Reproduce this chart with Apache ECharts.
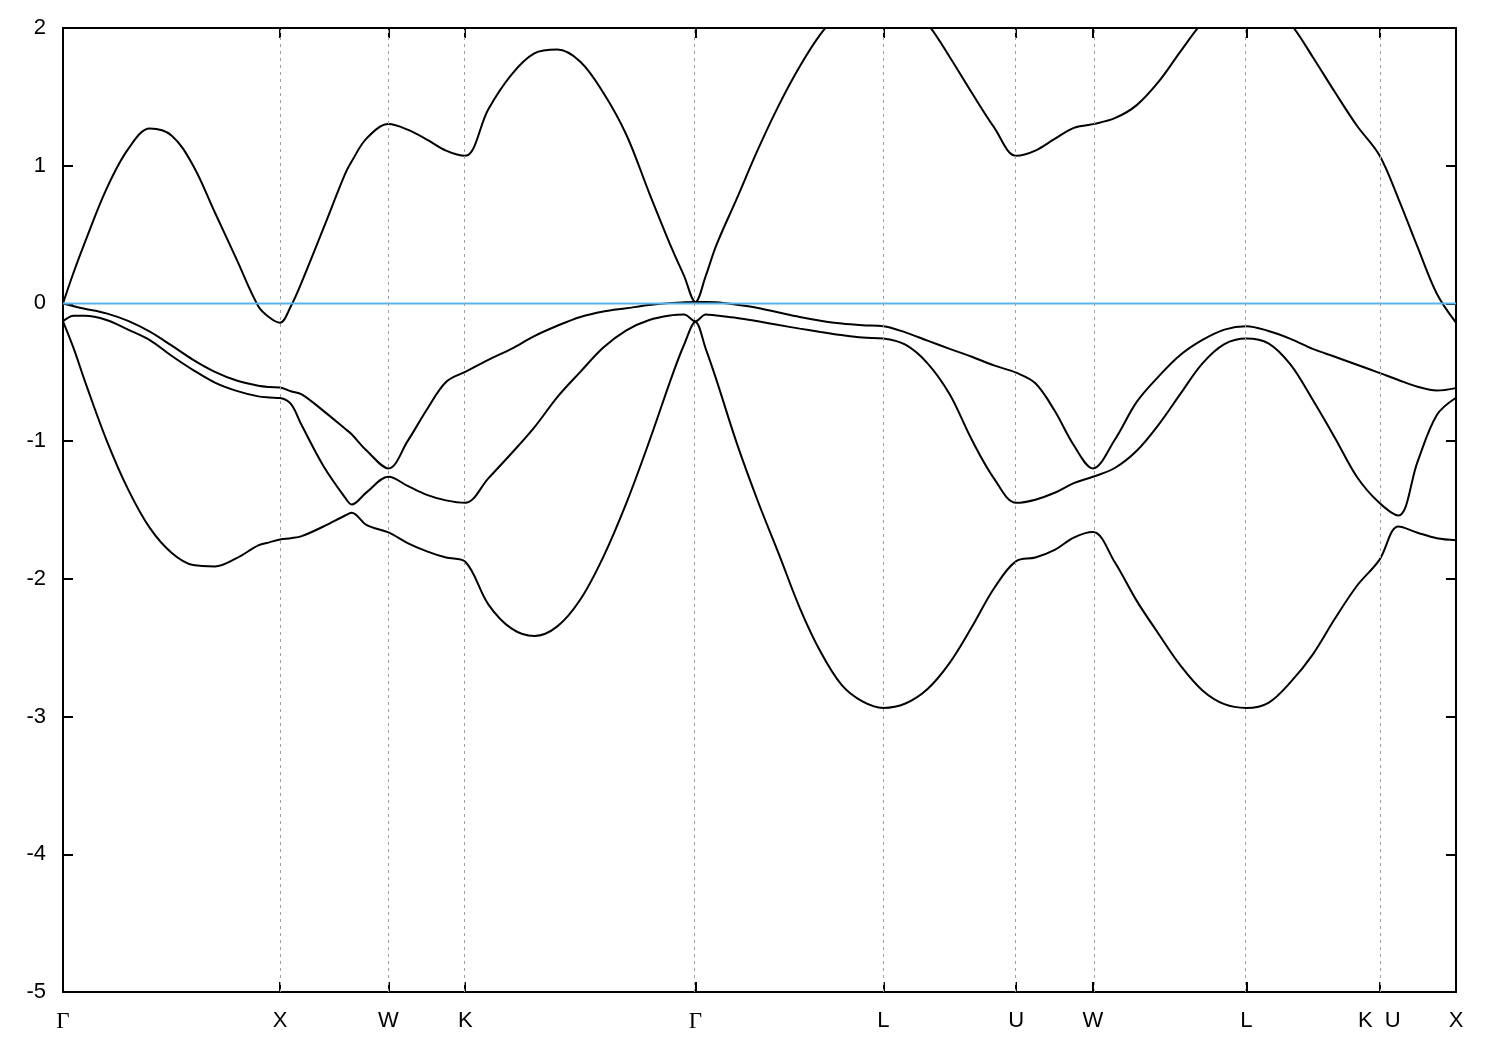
<!DOCTYPE html>
<html>
<head>
<meta charset="utf-8">
<script src="https://cdn.jsdelivr.net/npm/echarts@6/dist/echarts.min.js"></script>
<style>
html,body{margin:0;padding:0;background:#fff;}
#chart{width:1500px;height:1050px;}
</style>
</head>
<body>
<div id="chart"></div>
<script>
// High-symmetry points along the k-path (units of 2*pi/a)
const kTicks = [0, 1, 1.5, 1.8536, 2.9142, 3.7802, 4.3926, 4.7462, 5.4533, 6.0657, 6.4193];
const kTickLabels = ['Γ', 'X', 'W', 'K', 'Γ', 'L', 'U', 'W', 'L', 'K  U', 'X'];

// k sample positions
const k = [
  0, 0.05, 0.1, 0.2, 0.3, 0.4, 0.5, 0.6, 0.7, 0.8, 0.9, 0.95, 1.0,
  1.05, 1.1, 1.2, 1.3, 1.33, 1.4, 1.5,
  1.588, 1.677, 1.765, 1.8536,
  1.960, 2.066, 2.172, 2.278, 2.384, 2.490, 2.596, 2.702, 2.808, 2.862, 2.9142,
  2.962, 3.010, 3.106, 3.203, 3.299, 3.395, 3.491, 3.588, 3.684, 3.7802,
  3.882, 3.984, 4.086, 4.188, 4.290, 4.3926,
  4.481, 4.570, 4.658, 4.7462,
  4.847, 4.948, 5.049, 5.150, 5.251, 5.352, 5.4533,
  5.555, 5.657, 5.759, 5.861, 5.963, 6.0657,
  6.154, 6.242, 6.331, 6.4193
];

// Band energies (eV)
const band1 = [
  -0.13, -0.33, -0.56, -0.99, -1.35, -1.63, -1.81, -1.90, -1.91, -1.85, -1.757, -1.735, -1.714,
  -1.705, -1.69, -1.62, -1.54, -1.52, -1.61, -1.663,
  -1.74, -1.80, -1.845, -1.876,
  -2.185, -2.36, -2.415, -2.345, -2.15, -1.84, -1.45, -1.0, -0.52, -0.30, -0.135,
  -0.33, -0.55, -1.02, -1.44, -1.82, -2.21, -2.53, -2.77, -2.89, -2.937,
  -2.905, -2.80, -2.61, -2.35, -2.07, -1.871,
  -1.845, -1.79, -1.70, -1.66,
  -1.88, -2.16, -2.40, -2.63, -2.81, -2.91, -2.937,
  -2.90, -2.75, -2.55, -2.29, -2.05, -1.864,
  -1.62, -1.665, -1.705, -1.719
];
const band2 = [
  -0.13, -0.09, -0.09, -0.12, -0.19, -0.266, -0.38, -0.484, -0.575, -0.635, -0.675, -0.683, -0.687,
  -0.73, -0.885, -1.18, -1.41, -1.46, -1.37, -1.259,
  -1.325, -1.39, -1.43, -1.448,
  -1.27, -1.09, -0.90, -0.68, -0.497, -0.32, -0.195, -0.12, -0.085, -0.08, -0.13,
  -0.08, -0.088, -0.105, -0.13, -0.157, -0.183, -0.207, -0.23, -0.248, -0.254,
  -0.30, -0.435, -0.66, -0.99, -1.27, -1.448,
  -1.425, -1.375, -1.305, -1.259,
  -1.195, -1.07, -0.88, -0.655, -0.435, -0.295, -0.254,
  -0.29, -0.445, -0.70, -0.975, -1.26, -1.448,
  -1.54, -1.15, -0.81, -0.685
];
const band3 = [
  0.0, -0.02, -0.038, -0.072, -0.127, -0.205, -0.305, -0.41, -0.497, -0.56, -0.598, -0.607, -0.61,
  -0.638, -0.66, -0.78, -0.91, -0.95, -1.07, -1.198,
  -1.0, -0.77, -0.57, -0.497,
  -0.41, -0.33, -0.237, -0.162, -0.098, -0.058, -0.035, -0.012, 0.004, 0.008, 0.01,
  0.01, 0.008, -0.01, -0.033, -0.066, -0.098, -0.125, -0.146, -0.158, -0.165,
  -0.21, -0.27, -0.33, -0.387, -0.45, -0.503,
  -0.58, -0.78, -1.03, -1.198,
  -0.99, -0.715, -0.53, -0.373, -0.265, -0.19, -0.165,
  -0.20, -0.257, -0.33, -0.387, -0.445, -0.504,
  -0.556, -0.605, -0.633, -0.615
];
const band4 = [
  0.0, 0.23, 0.44, 0.83, 1.12, 1.27, 1.22, 1.00, 0.66, 0.32, -0.02, -0.10, -0.14,
  -0.02, 0.155, 0.545, 0.94, 1.03, 1.20, 1.302,
  1.262, 1.19, 1.11, 1.072,
  1.41, 1.66, 1.815, 1.843, 1.755, 1.53, 1.225, 0.80, 0.39, 0.20, 0.01,
  0.20, 0.42, 0.765, 1.12, 1.44, 1.72, 1.955, 2.13, 2.22, 2.25,
  2.18, 2.03, 1.79, 1.53, 1.28, 1.072,
  1.11, 1.195, 1.275, 1.302,
  1.345, 1.44, 1.61, 1.83, 2.04, 2.18, 2.23,
  2.18, 2.03, 1.79, 1.535, 1.29, 1.077,
  0.76, 0.41, 0.07, -0.14
];
const fermiLevel = 0;

const yMin = -5, yMax = 2, yStep = 1;
const kMax = kTicks[kTicks.length - 1];

const bands = [band1, band2, band3, band4];

function labelFor(v) {
  let best = 0, bd = Infinity;
  kTicks.forEach((t, i) => { const d = Math.abs(t - v); if (d < bd) { bd = d; best = i; } });
  const s = kTickLabels[best];
  return s === 'Γ' ? '{g|Γ}' : s;
}

const chart = echarts.init(document.getElementById('chart'), null, {renderer: 'canvas'});

const series = [];
series.push({
  type: 'line', name: 'grid', data: [], silent: true,
  markLine: {
    silent: true, symbol: ['none', 'none'], animation: false,
    label: {show: false},
    lineStyle: {color: '#a0a0a0', width: 1, type: [3, 4]},
    data: kTicks.slice(1, -1).map(t => ({xAxis: t}))
  }
});
bands.forEach((b, i) => {
  series.push({
    type: 'line', name: 'band' + (i + 1),
    data: k.map((kv, j) => [kv, b[j]]),
    showSymbol: false, symbol: 'none', smooth: 0.35, clip: true,
    lineStyle: {color: '#000', width: 2},
    z: 3
  });
});
series.push({
  type: 'line', name: 'Ef',
  data: [[0, fermiLevel], [kMax, fermiLevel]],
  showSymbol: false, symbol: 'none',
  lineStyle: {color: '#56B4E9', width: 2},
  z: 4
});

const axisFont = 'Liberation Sans, Arial, sans-serif';

chart.setOption({
  animation: false,
  backgroundColor: '#fff',
  grid: {left: 63, right: 44, top: 28, bottom: 58, containLabel: false},
  xAxis: [
    {
      type: 'value', min: 0, max: kMax, position: 'bottom',
      axisLine: {show: true, onZero: false, lineStyle: {color: '#000', width: 2}},
      axisTick: {show: true, inside: true, length: 10, customValues: kTicks, lineStyle: {color: '#000', width: 2}},
      axisLabel: {
        show: true, customValues: kTicks, margin: 18,
        fontSize: 22, fontFamily: axisFont, color: '#000',
        formatter: labelFor,
        rich: {g: {fontFamily: 'Liberation Serif, DejaVu Serif, serif', fontSize: 23, color: '#000'}}
      },
      splitLine: {show: false}
    },
    {
      type: 'value', min: 0, max: kMax, position: 'top',
      axisLine: {show: true, onZero: false, lineStyle: {color: '#000', width: 2}},
      axisTick: {show: true, inside: true, length: 10, customValues: kTicks, lineStyle: {color: '#000', width: 2}},
      axisLabel: {show: false},
      splitLine: {show: false}
    }
  ],
  yAxis: [
    {
      type: 'value', min: yMin, max: yMax, interval: yStep, position: 'left',
      axisLine: {show: true, onZero: false, lineStyle: {color: '#000', width: 2}},
      axisTick: {show: true, inside: true, length: 10, lineStyle: {color: '#000', width: 2}},
      axisLabel: {show: true, margin: 17, fontSize: 22, fontFamily: axisFont, color: '#000'},
      splitLine: {show: false}
    },
    {
      type: 'value', min: yMin, max: yMax, interval: yStep, position: 'right',
      axisLine: {show: true, onZero: false, lineStyle: {color: '#000', width: 2}},
      axisTick: {show: true, inside: true, length: 10, lineStyle: {color: '#000', width: 2}},
      axisLabel: {show: false},
      splitLine: {show: false}
    }
  ],
  series: series
});
</script>
</body>
</html>
